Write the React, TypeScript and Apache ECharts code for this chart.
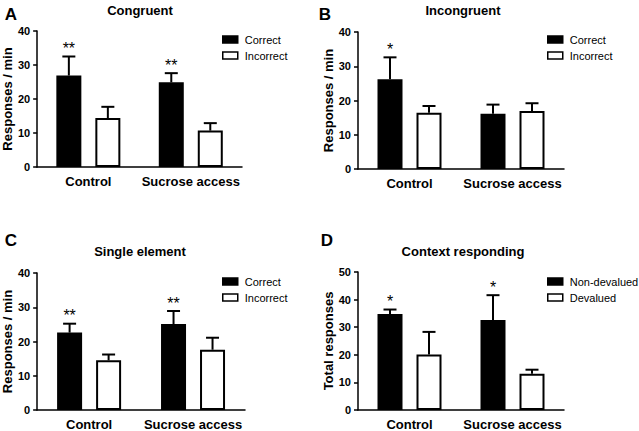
import React, { useEffect, useRef } from "react";
import * as echarts from "echarts";

const categories = ["Control", "Sucrose access"];

// Panel A – Congruent
const aCorrect = [26.9, 24.9];
const aCorrectErr = [5.6, 2.7];
const aIncorrect = [14.4, 10.7];
const aIncorrectErr = [3.3, 2.2];
const aSig = ["**", "**"];

// Panel B – Incongruent
const bCorrect = [26.2, 16.1];
const bCorrectErr = [6.4, 2.7];
const bIncorrect = [16.4, 16.9];
const bIncorrectErr = [2.0, 2.3];
const bSig = ["*", ""];

// Panel C – Single element
const cCorrect = [22.6, 25.1];
const cCorrectErr = [2.6, 3.8];
const cIncorrect = [14.5, 17.6];
const cIncorrectErr = [1.7, 3.5];
const cSig = ["**", "**"];

// Panel D – Context responding
const dNonDevalued = [34.8, 32.6];
const dNonDevaluedErr = [1.6, 9.0];
const dDevalued = [20.1, 13.1];
const dDevaluedErr = [8.2, 1.5];
const dSig = ["*", "*"];

const FONT = "'Liberation Sans', Arial, sans-serif";
const BAR_W = 25;
const BAR_GAP = 14;
const OFF = (BAR_W + BAR_GAP) / 2;

type Panel = {
  letter: string;
  title: string;
  yName: string;
  yMax: number;
  names: [string, string];
  v1: number[];
  e1: number[];
  v2: number[];
  e2: number[];
  sig: string[];
  grid: { left: number; top: number; width: number; height: number };
  letterPos: [number, number];
  titlePos: [number, number];
  legendPos: [number, number];
};

const panels: Panel[] = [
  {
    letter: "A", title: "Congruent", yName: "Responses / min", yMax: 40,
    names: ["Correct", "Incorrect"], v1: aCorrect, e1: aCorrectErr, v2: aIncorrect, e2: aIncorrectErr, sig: aSig,
    grid: { left: 37, top: 31, width: 205, height: 136 },
    letterPos: [11, 14], titlePos: [140, 10], legendPos: [222, 33],
  },
  {
    letter: "B", title: "Incongruent", yName: "Responses / min", yMax: 40,
    names: ["Correct", "Incorrect"], v1: bCorrect, e1: bCorrectErr, v2: bIncorrect, e2: bIncorrectErr, sig: bSig,
    grid: { left: 358, top: 32, width: 206, height: 137 },
    letterPos: [325, 14], titlePos: [463, 10], legendPos: [547, 33],
  },
  {
    letter: "C", title: "Single element", yName: "Responses / min", yMax: 40,
    names: ["Correct", "Incorrect"], v1: cCorrect, e1: cCorrectErr, v2: cIncorrect, e2: cIncorrectErr, sig: cSig,
    grid: { left: 37, top: 273, width: 208, height: 138 },
    letterPos: [11, 240], titlePos: [140, 251], legendPos: [222, 275],
  },
  {
    letter: "D", title: "Context responding", yName: "Total responses", yMax: 50,
    names: ["Non-devalued", "Devalued"], v1: dNonDevalued, e1: dNonDevaluedErr, v2: dDevalued, e2: dDevaluedErr, sig: dSig,
    grid: { left: 358, top: 272, width: 206, height: 138 },
    letterPos: [327, 240], titlePos: [463, 251], legendPos: [547, 275],
  },
];

function errSeries(idx: number, vals: number[], errs: number[], sig: string[], off: number) {
  return {
    type: "custom",
    name: "err" + idx + "_" + off,
    xAxisIndex: idx,
    yAxisIndex: idx,
    z: 5,
    silent: true,
    data: vals.map((v, i) => [i, v, errs[i]]),
    encode: { x: 0, y: 1 },
    renderItem: (params: any, api: any) => {
      const c = api.value(0);
      const v = api.value(1);
      const e = api.value(2);
      const p0 = api.coord([c, v]);
      const p1 = api.coord([c, v + e]);
      const x = p0[0] + off;
      const children: any[] = [
        { type: "line", shape: { x1: x, y1: p0[1], x2: x, y2: p1[1] }, style: { stroke: "#000", lineWidth: 2 } },
        { type: "line", shape: { x1: x - 6.5, y1: p1[1], x2: x + 6.5, y2: p1[1] }, style: { stroke: "#000", lineWidth: 2 } },
      ];
      const s = sig[params.dataIndex];
      if (s) {
        children.push({
          type: "text",
          x,
          y: p1[1] - 8,
          style: { text: s, align: "center", verticalAlign: "middle", font: "16px " + FONT, fill: "#000" },
        });
      }
      return { type: "group", children };
    },
  };
}

export default function App() {
  const ref = useRef<HTMLDivElement>(null);
  useEffect(() => {
    if (!ref.current) return;
    const chart = echarts.init(ref.current, null, { renderer: "svg" });
    const grids: any[] = [];
    const xAxes: any[] = [];
    const yAxes: any[] = [];
    const legends: any[] = [];
    const series: any[] = [];
    const graphics: any[] = [];
    panels.forEach((p, i) => {
      grids.push({ ...p.grid, containLabel: false });
      xAxes.push({
        type: "category",
        gridIndex: i,
        data: categories,
        axisLine: { lineStyle: { color: "#000", width: 1.5 } },
        axisTick: { alignWithLabel: true, length: 4, lineStyle: { color: "#000", width: 1.5 } },
        axisLabel: { interval: 0, hideOverlap: false, color: "#000", fontSize: 13, fontWeight: "bold", fontFamily: FONT, margin: 8 },
      });
      yAxes.push({
        type: "value",
        gridIndex: i,
        min: 0,
        max: p.yMax,
        interval: 10,
        name: p.yName,
        nameLocation: "middle",
        nameGap: 23,
        nameTextStyle: { color: "#000", fontSize: 13, fontWeight: "bold", fontFamily: FONT },
        axisLine: { show: true, lineStyle: { color: "#000", width: 1.5 } },
        axisTick: { show: true, length: 4, lineStyle: { color: "#000", width: 1.5 } },
        axisLabel: { color: "#000", fontSize: 11, fontWeight: "bold", fontFamily: FONT, margin: 7 },
        splitLine: { show: false },
      });
      legends.push({
        orient: "vertical",
        left: p.legendPos[0],
        top: p.legendPos[1],
        data: p.names,
        icon: "rect",
        itemWidth: 15,
        itemHeight: 7,
        itemGap: 3,
        itemStyle: { borderColor: "#000", borderWidth: 1.5 },
        textStyle: { color: "#000", fontSize: 11, fontFamily: FONT, lineHeight: 13, padding: [0, 0, 0, 2] },
        padding: 0,
        selectedMode: false,
      });
      series.push({
        type: "bar",
        name: p.names[0],
        xAxisIndex: i,
        yAxisIndex: i,
        data: p.v1,
        barWidth: BAR_W,
        barGap: (BAR_GAP / BAR_W) * 100 + "%",
        itemStyle: { color: "#000", borderColor: "#000", borderWidth: 2 },
      });
      series.push({
        type: "bar",
        name: p.names[1],
        xAxisIndex: i,
        yAxisIndex: i,
        data: p.v2,
        barWidth: BAR_W,
        barGap: (BAR_GAP / BAR_W) * 100 + "%",
        itemStyle: { color: "#fff", borderColor: "#000", borderWidth: 2 },
      });
      series.push(errSeries(i, p.v1, p.e1, p.sig, -OFF));
      series.push(errSeries(i, p.v2, p.e2, ["", ""], OFF));
      graphics.push({
        type: "text",
        x: p.letterPos[0],
        y: p.letterPos[1],
        style: { text: p.letter, align: "center", verticalAlign: "middle", font: "bold 17px " + FONT, fill: "#000" },
      });
      graphics.push({
        type: "text",
        x: p.titlePos[0],
        y: p.titlePos[1],
        style: { text: p.title, align: "center", verticalAlign: "middle", font: "bold 13px " + FONT, fill: "#000" },
      });
    });
    chart.setOption({
      animation: false,
      backgroundColor: "#fff",
      grid: grids,
      xAxis: xAxes,
      yAxis: yAxes,
      legend: legends,
      series,
      graphic: graphics,
    });
    return () => chart.dispose();
  }, []);
  return (
    <div
      ref={ref}
      style={{ position: "absolute", left: 0, top: 0, width: 639, height: 431, background: "#fff" }}
    />
  );
}
